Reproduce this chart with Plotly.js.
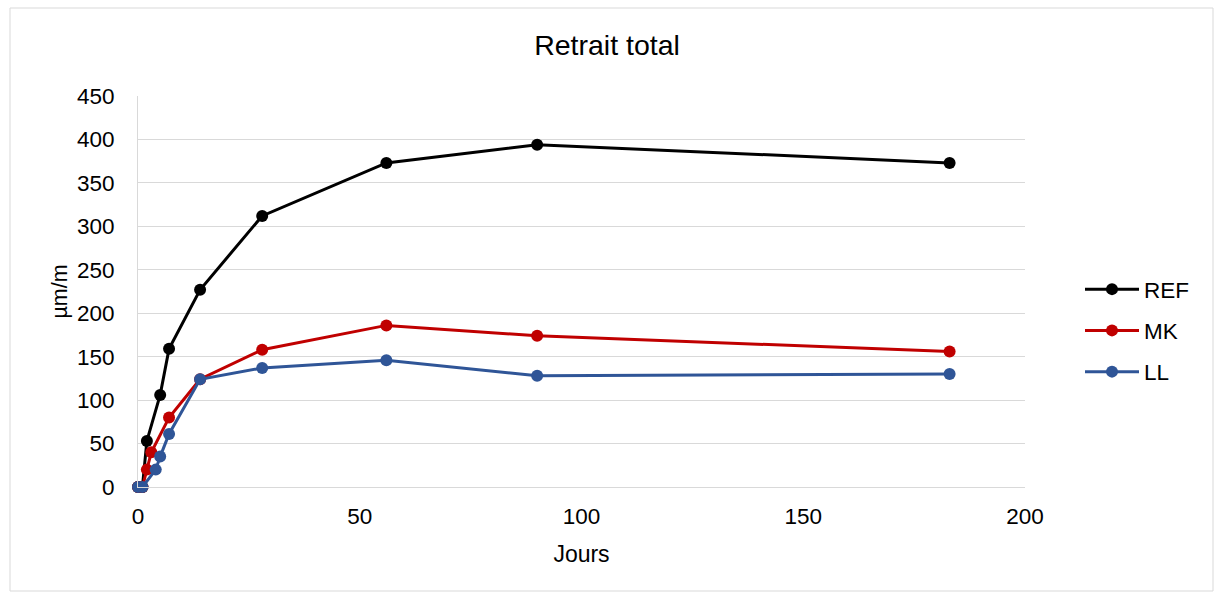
<!DOCTYPE html>
<html>
<head>
<meta charset="utf-8">
<script src="https://cdn.plot.ly/plotly-3.0.1.min.js"></script>
<style>html,body{margin:0;padding:0;background:#fff;}#chart{width:1214px;height:592px;}</style>
</head>
<body>
<div id="chart"></div>
<script>
const refDays = [0, 1, 2, 5, 7, 14, 28, 56, 90, 183];
const refValues = [0, 0, 53, 106, 159, 227, 312, 373, 394, 373];
const mkDays = [0, 1, 2, 3, 7, 14, 28, 56, 90, 183];
const mkValues = [0, 0, 20, 40, 80, 124, 158, 186, 174, 156];
const llDays = [0, 1, 4, 5, 7, 14, 28, 56, 90, 183];
const llValues = [0, 0, 20, 35, 61, 124, 137, 146, 128, 130];
const seriesNames = ["REF", "MK", "LL"];
const seriesColors = ["#000000", "#c00000", "#2f5597"];

const W = 1214, H = 592;
const L = 138, R = 1025, T = 96, B = 487;
const pw = R - L, ph = B - T;
const px = v => (v - L) / pw;
const py = v => (B - v) / ph;

const mk = (x, y, i) => ({
  x: x, y: y, name: seriesNames[i], type: 'scatter', mode: 'lines+markers',
  line: {color: seriesColors[i], width: 3},
  marker: {color: seriesColors[i], size: 12},
  cliponaxis: false,
  legendgroup: 'g' + i
});

const data = [mk(refDays, refValues, 0), mk(mkDays, mkValues, 1), mk(llDays, llValues, 2)];

const layout = {
  width: W, height: H,
  margin: {l: L, r: W - R, t: T, b: H - B, pad: 0},
  paper_bgcolor: '#fff', plot_bgcolor: '#fff',
  font: {family: 'Liberation Sans, Arial, sans-serif', color: '#000', size: 22.5},
  title: {text: 'Retrait total', font: {size: 28.5, color: '#000'}, x: 0.5, xanchor: 'center', y: 1 - 45 / H, yanchor: 'middle'},
  xaxis: {
    range: [0, 200], dtick: 50, tick0: 0, showgrid: false,
    zeroline: false, showline: true, linecolor: '#d9d9d9', linewidth: 1,
    ticks: '', tickfont: {size: 22.5}, ticklabelstandoff: 9,
    title: {text: 'Jours', font: {size: 23}, standoff: 17}
  },
  yaxis: {
    range: [0, 450], dtick: 50, tick0: 0, showgrid: true, gridcolor: '#d9d9d9', gridwidth: 1,
    zeroline: false, showline: true, linecolor: '#d9d9d9', linewidth: 1,
    ticks: '', tickfont: {size: 22.5}, ticklabelstandoff: 18,
    title: {text: 'µm/m', font: {size: 21.5}, standoff: 3}
  },
  showlegend: true,
  legend: {x: px(1080), xanchor: 'left', y: py(268), yanchor: 'top', font: {size: 22.5},
           bgcolor: 'rgba(0,0,0,0)', tracegroupgap: 9, itemwidth: 54},
  shapes: [{type: 'rect', xref: 'paper', yref: 'paper', x0: px(10), x1: px(1213), y0: py(591), y1: py(8),
            line: {color: '#d9d9d9', width: 1}, fillcolor: 'rgba(0,0,0,0)', layer: 'below'}]
};

Plotly.newPlot('chart', data, layout, {displayModeBar: false, staticPlot: true});
</script>
</body>
</html>
